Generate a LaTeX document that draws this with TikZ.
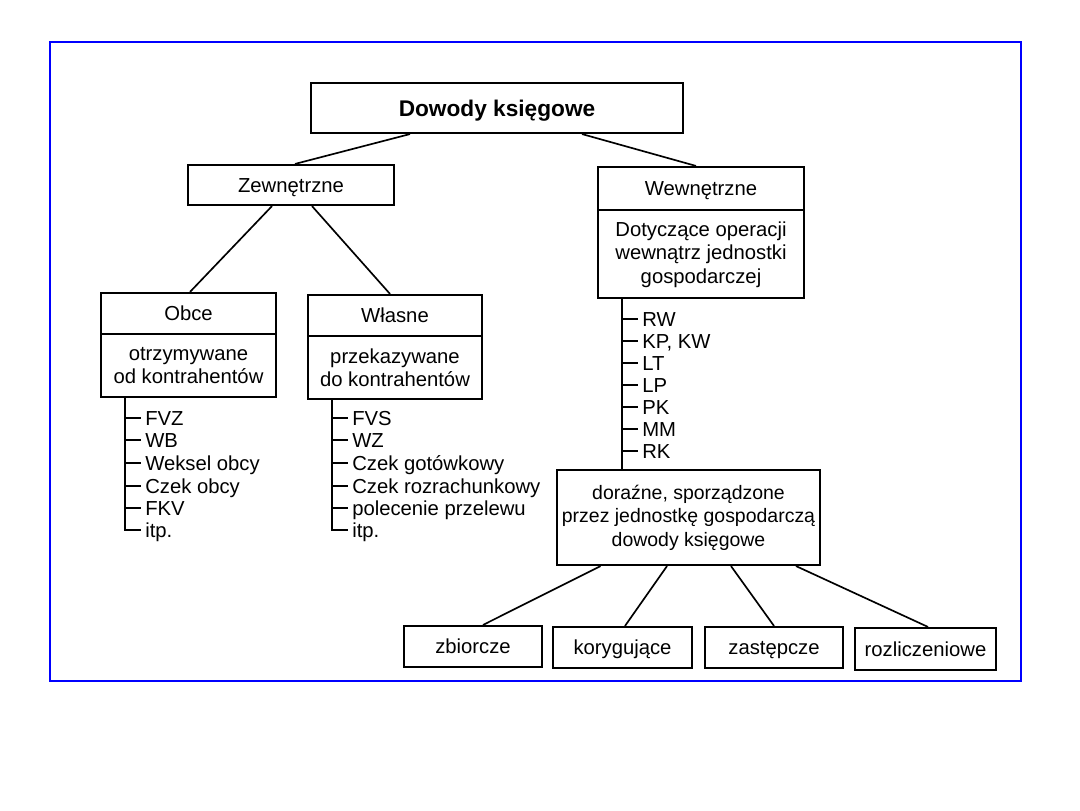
\documentclass[tikz,border=0pt]{standalone}
\usepackage{fontspec}
\setmainfont{Liberation Sans}
\usetikzlibrary{calc}
\begin{document}
\begin{tikzpicture}[x=0.75pt,y=-0.75pt,
  txt/.style={font=\fontsize{15.2}{17.6}\selectfont},
  bx/.style 2 args={draw=black,line width=1.6pt,rectangle,inner sep=0pt,align=center,
     minimum width=#1*0.75pt,minimum height=#2*0.75pt,txt},
  one/.style={text height=10.9pt,text depth=0pt},
  conn/.style={draw=black,line width=1.25pt},
  item/.style={anchor=west,inner xsep=3pt,inner ysep=0pt,text height=10.9pt,text depth=0pt,txt},
  frame/.style={draw=blue,line width=1.1pt}]
\useasboundingbox (0,0) rectangle (1080,810);
\fill[white] (0,0) rectangle (1080,810);
\draw[frame] (50,42) rectangle (1021,681);
% boxes
\node[bx={372}{50},font=\fontsize{17}{20}\selectfont\bfseries,text height=12.2pt,text depth=0pt] (root) at (497,108) {Dowody księgowe};
\node[bx={206}{40},one] (zew) at (291,185) {Zewnętrzne};
\node[bx={206}{43},one] (wewT) at (701,188.5) {Wewnętrzne};
\node[bx={206}{88}] (wewB) at (701,254) {\rule{0pt}{12pt}Dotyczące operacji\\wewnątrz jednostki\\gospodarczej};
\node[bx={175}{41},one] (obceT) at (188.5,313.5) {Obce};
\node[bx={175}{63}] (obceB) at (188.5,365.5) {otrzymywane\\od kontrahentów};
\node[bx={174}{41},one] (wlT) at (395,315.5) {Własne};
\node[bx={174}{63}] (wlB) at (395,367.5) {przekazywane\\do kontrahentów};
\node[bx={263}{95},font=\fontsize{14.6}{17.6}\selectfont] (dor) at (688.5,517.5) {doraźne, sporządzone\\przez jednostkę gospodarczą\\dowody księgowe};
\node[bx={138}{41},one] (zb) at (473,646.5) {zbiorcze};
\node[bx={139}{41},one] (kor) at (622.5,647.5) {korygujące};
\node[bx={138}{41},one] (zas) at (774,647.5) {zastępcze};
\node[bx={141}{42},one] (roz) at (925.5,649) {rozliczeniowe};
% tree connectors
\draw[conn] ($(root.south)+(-87,0)$) -- ($(zew.north)+(4,0)$);
\draw[conn] ($(root.south)+(85,0)$) -- ($(wewT.north)+(-5,0)$);
\draw[conn] ($(zew.south)+(-19,0)$) -- ($(obceT.north)+(1.5,0)$);
\draw[conn] ($(zew.south)+(21,0)$) -- ($(wlT.north)+(-5,0)$);
\draw[conn] ($(dor.south)+(-88,0)$) -- ($(zb.north)+(10,0)$);
\draw[conn] ($(dor.south)+(-21.5,0)$) -- ($(kor.north)+(2.5,0)$);
\draw[conn] ($(dor.south)+(42.5,0)$) -- ($(zas.north)+(0,0)$);
\draw[conn] ($(dor.south)+(107.5,0)$) -- ($(roz.north)+(2.5,0)$);
% Obce list
\coordinate (ol) at ($(obceB.south)+(-63.5,0)$);
\node[item] (o1) at (141,418) {FVZ};
\node[item] (o2) at (141,440) {WB};
\node[item] (o3) at (141,463) {Weksel obcy};
\node[item] (o4) at (141,486) {Czek obcy};
\node[item] (o5) at (141,508) {FKV};
\node[item] (o6) at (141,530) {itp.};
\draw[conn] (ol) |- (o6.west);
\foreach \i in {1,...,5} {\draw[conn] (ol |- o\i.west) -- (o\i.west);}
% Wlasne list
\coordinate (wl) at ($(wlB.south)+(-63,0)$);
\node[item] (w1) at (348,418) {FVS};
\node[item] (w2) at (348,440) {WZ};
\node[item] (w3) at (348,463) {Czek gotówkowy};
\node[item] (w4) at (348,486) {Czek rozrachunkowy};
\node[item] (w5) at (348,508) {polecenie przelewu};
\node[item] (w6) at (348,530) {itp.};
\draw[conn] (wl) |- (w6.west);
\foreach \i in {1,...,5} {\draw[conn] (wl |- w\i.west) -- (w\i.west);}
% Wewnetrzne list
\coordinate (el) at ($(wewB.south)+(-79,0)$);
\draw[conn] (el) -- (el |- dor.north);
\node[item] (e1) at (638,319) {RW};
\node[item] (e2) at (638,341) {KP, KW};
\node[item] (e3) at (638,363) {LT};
\node[item] (e4) at (638,385) {LP};
\node[item] (e5) at (638,407) {PK};
\node[item] (e6) at (638,429) {MM};
\node[item] (e7) at (638,451) {RK};
\foreach \i in {1,...,7} {\draw[conn] (el |- e\i.west) -- (e\i.west);}
\end{tikzpicture}
\end{document}
